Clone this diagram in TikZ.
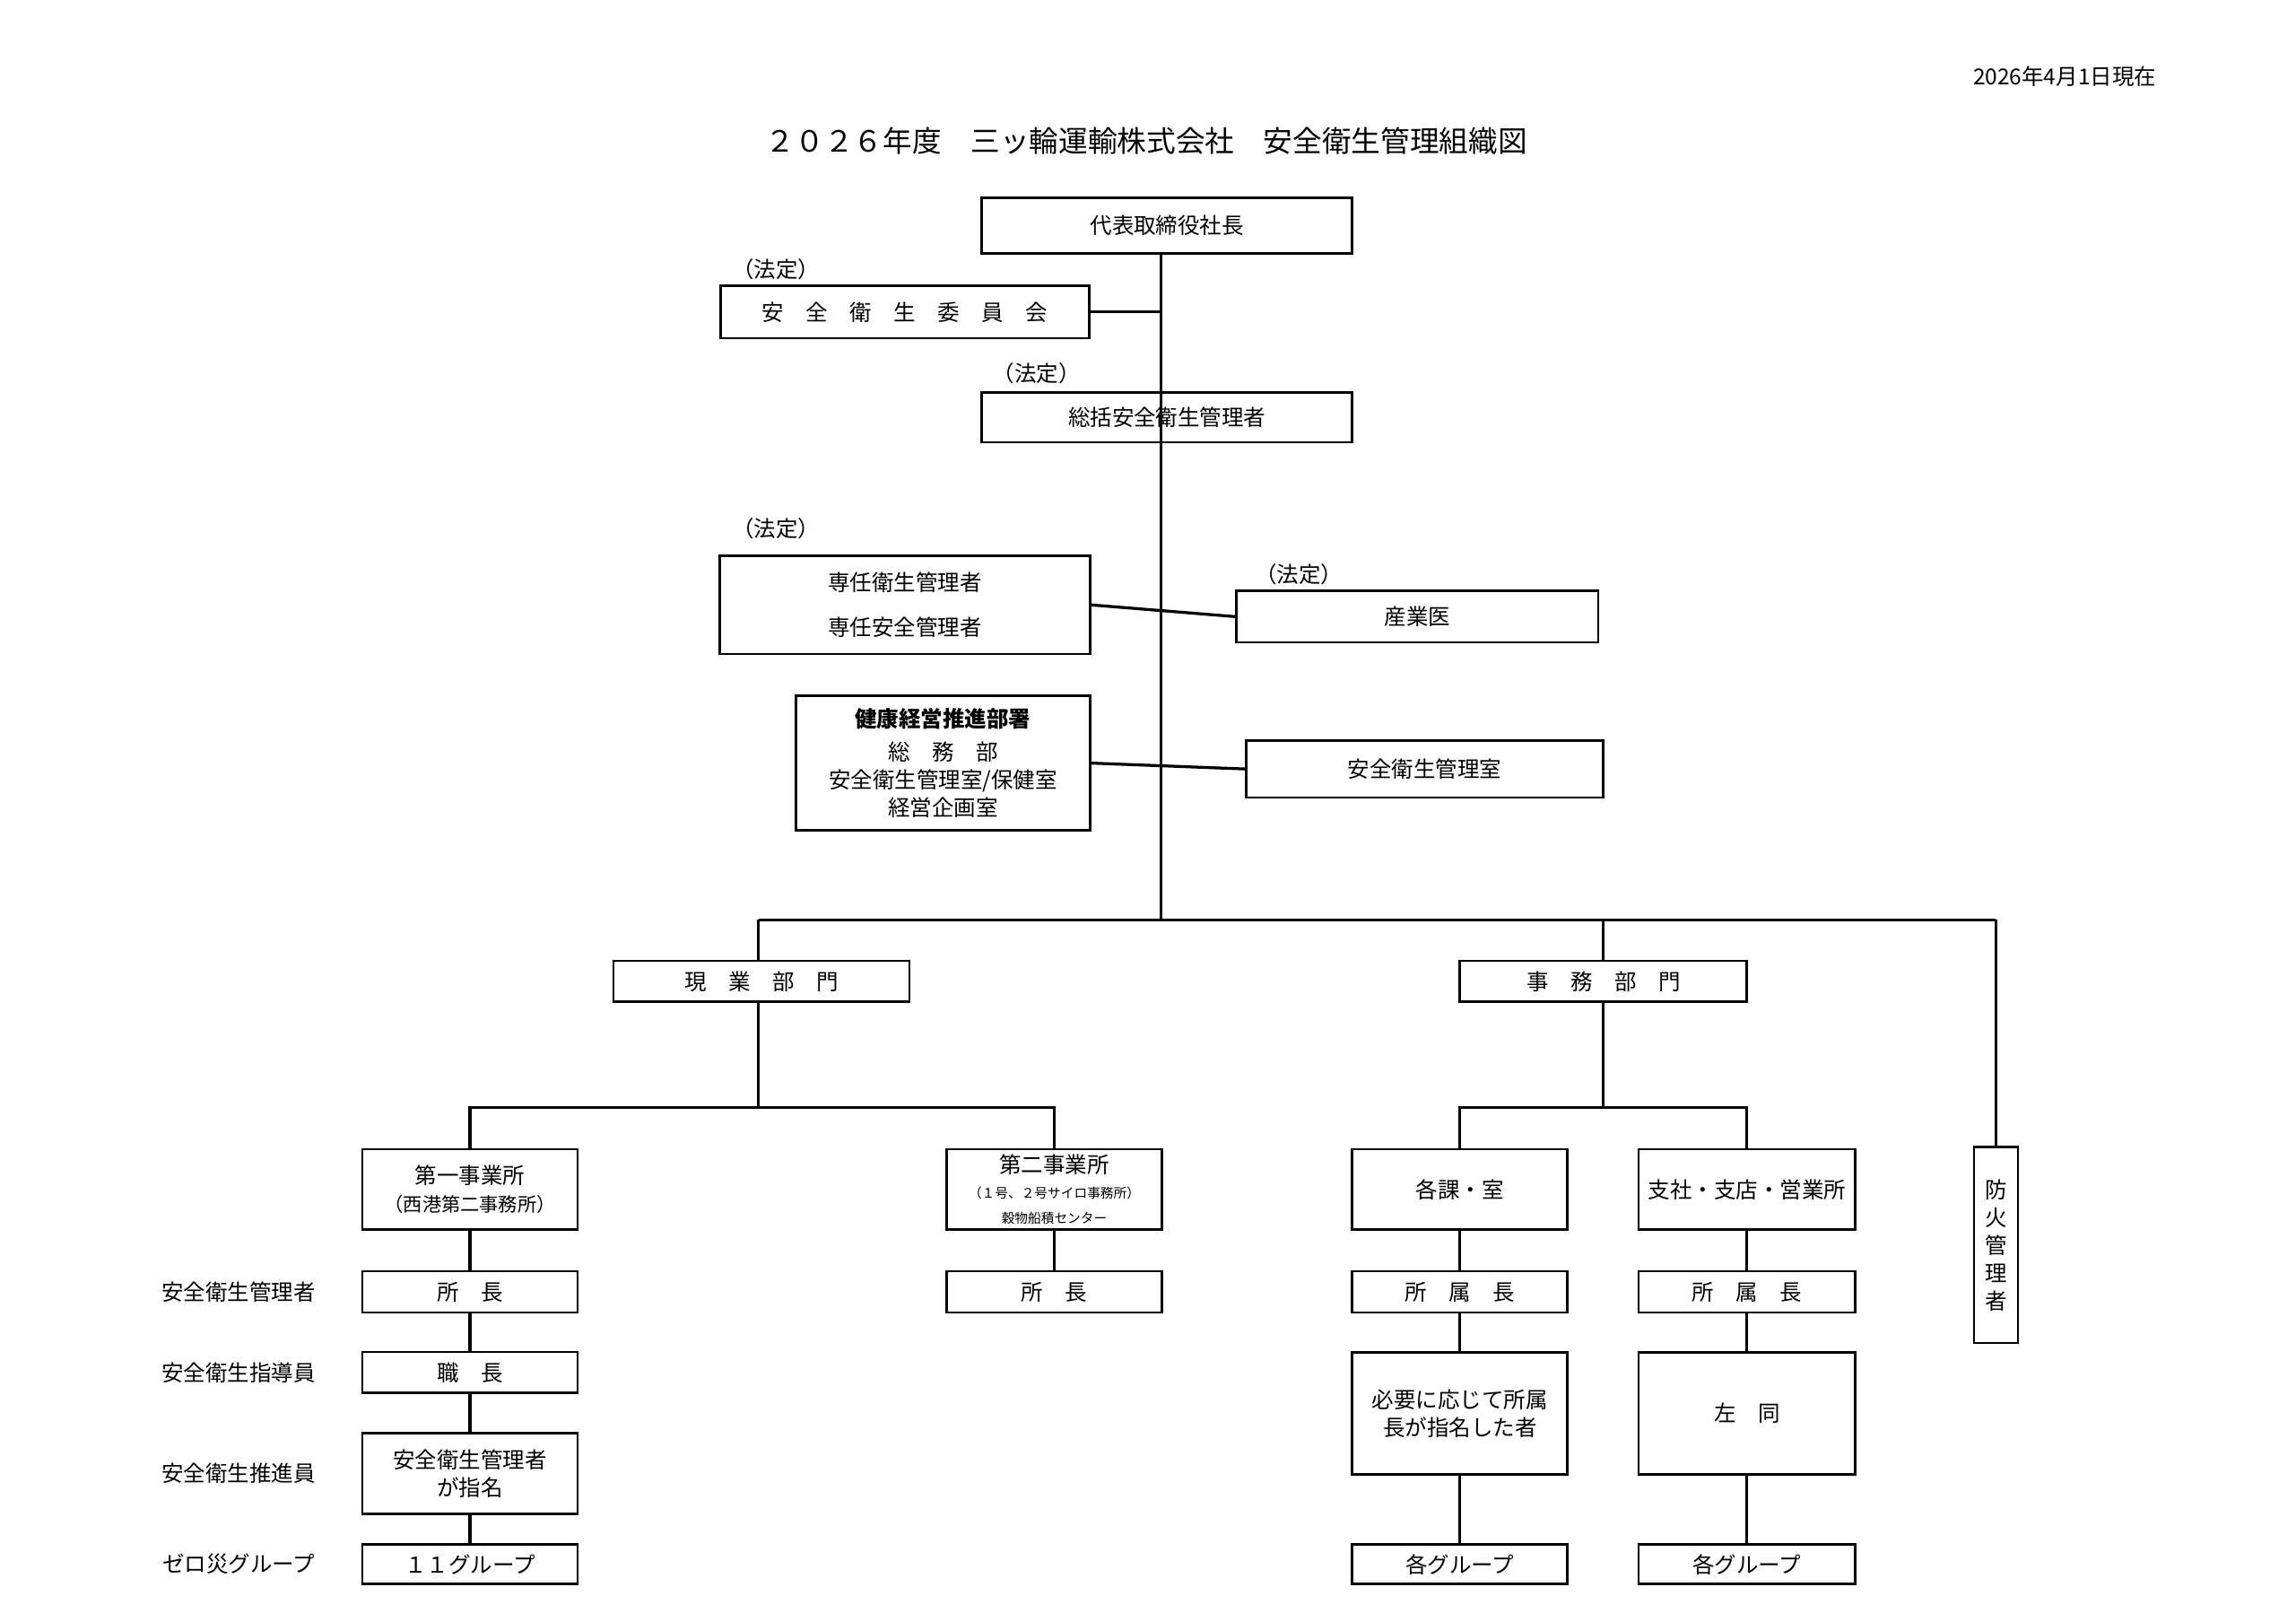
\documentclass[tikz,border=0pt]{standalone}
\usepackage{fontspec}
\setmainfont{Noto Sans CJK JP}
\usetikzlibrary{positioning,calc}
\tikzset{
  box/.style 2 args={draw,thick,inner sep=0pt,align=center,minimum width=#1*0.5pt,minimum height=#2*0.5pt,font=\fontsize{7.5}{9.5}\selectfont},
  lbl/.style={inner sep=0pt,font=\fontsize{7.5}{9.5}\selectfont},
  wire/.style={line width=1pt}
}
\begin{document}
\begin{tikzpicture}[x=0.5pt,y=-0.5pt]
\useasboundingbox (0,0) rectangle (1568,1107);

\node[lbl] at (1410,52) {2026年4月1日現在};
\node[lbl,font=\fontsize{10}{12}\selectfont] at (783,96) {２０２６年度\quad 三ッ輪運輸株式会社\quad 安全衛生管理組織図};

% top part
\node[box={253}{38}] (pres) at (797,154) {代表取締役社長};
\node[box={252}{36}] (cmte) at (618,213) {安\quad 全\quad 衛\quad 生\quad 委\quad 員\quad 会};
\node[lbl] at (530,184) {（法定）};
\node[lbl] at (708,255) {（法定）};
\node[box={253}{34}] (gen) at (797,285) {総括安全衛生管理者};
\node[lbl] at (530,361) {（法定）};
\node[box={253}{67}] (sen) at (618,413) {専任衛生管理者\\[6pt]専任安全管理者};
\node[lbl] at (887,392) {（法定）};
\node[box={247}{35}] (doc) at (968,421) {産業医};
\node[box={201}{92}] (health) at (644,521) {\textbf{健康経営推進部署}\\[2pt]総\quad 務\quad 部\\安全衛生管理室/保健室\\経営企画室};
\node[box={244}{39}] (room) at (973,525) {安全衛生管理室};

\coordinate (t1) at (793,628);
\draw[wire] (pres.south -| t1) -- (t1);
\draw[wire] (cmte.east) -- (cmte.east -| t1);
\draw[wire] (sen.east) -- (doc.west);
\draw[wire] (health.east) -- (room.west);

% divisions
\node[box={202}{28}] (gen1) at (520,670) {現\quad 業\quad 部\quad 門};
\node[box={196}{28}] (jim) at (1095,670) {事\quad 務\quad 部\quad 門};
\node[box={30}{134}] (fire) at (1363,850) {防\\火\\管\\理\\者};
\draw[wire] (518,628) -- (1363,628);
\draw[wire] (518,628) -- (518,656);
\draw[wire] (jim.north) -- (1095,628);
\draw[wire] (fire.north) -- (1363,628);

% left labels
\foreach \y/\t in {882/安全衛生管理者,937/安全衛生指導員,1006/安全衛生推進員,1068/ゼロ災グループ}
  \node[lbl] at (163,\y) {\t};

% 現業 branch
\node[box={147}{55}] (f1) at (321,812) {第一事業所\\{\fontsize{6.5}{8}\selectfont（西港第二事務所）}};
\node[box={147}{55}] (f2) at (720,812) {第二事業所\\[-1pt]{\fontsize{4.5}{5.5}\selectfont（１号、２号サイロ事務所）}\\[-1pt]{\fontsize{4.5}{5.5}\selectfont 穀物船積センター}};
\draw[wire] (518,684) -- (518,756);
\draw[wire] (f1.north) |- (518,756) -| (f2.north);
\node[box={147}{28}] (f1a) at (321,882) {所\quad 長};
\node[box={147}{28}] (f1b) at (321,937) {職\quad 長};
\node[box={147}{55}] (f1c) at (321,1006) {安全衛生管理者\\が指名};
\node[box={147}{27}] (f1d) at (321,1068) {１１グループ};
\node[box={147}{28}] (f2a) at (720,882) {所\quad 長};
\draw[wire] (f1) -- (f1a) -- (f1b) -- (f1c) -- (f1d);
\draw[wire] (f2) -- (f2a);

% 事務 branch
\node[box={147}{55}] (s1) at (997,812) {各課・室};
\node[box={148}{55}] (s2) at (1193,812) {支社・支店・営業所};
\draw[wire] (jim.south) -- (1095,756);
\draw[wire] (s1.north) |- (1095,756) -| (s2.north);
\node[box={147}{28}] (s1a) at (997,882) {所\quad 属\quad 長};
\node[box={147}{83}] (s1b) at (997,965) {必要に応じて所属\\長が指名した者};
\node[box={147}{27}] (s1c) at (997,1068) {各グループ};
\node[box={148}{28}] (s2a) at (1193,882) {所\quad 属\quad 長};
\node[box={148}{83}] (s2b) at (1193,965) {左\quad 同};
\node[box={148}{27}] (s2c) at (1193,1068) {各グループ};
\draw[wire] (s1) -- (s1a) -- (s1b) -- (s1c);
\draw[wire] (s2) -- (s2a) -- (s2b) -- (s2c);
\end{tikzpicture}
\end{document}
